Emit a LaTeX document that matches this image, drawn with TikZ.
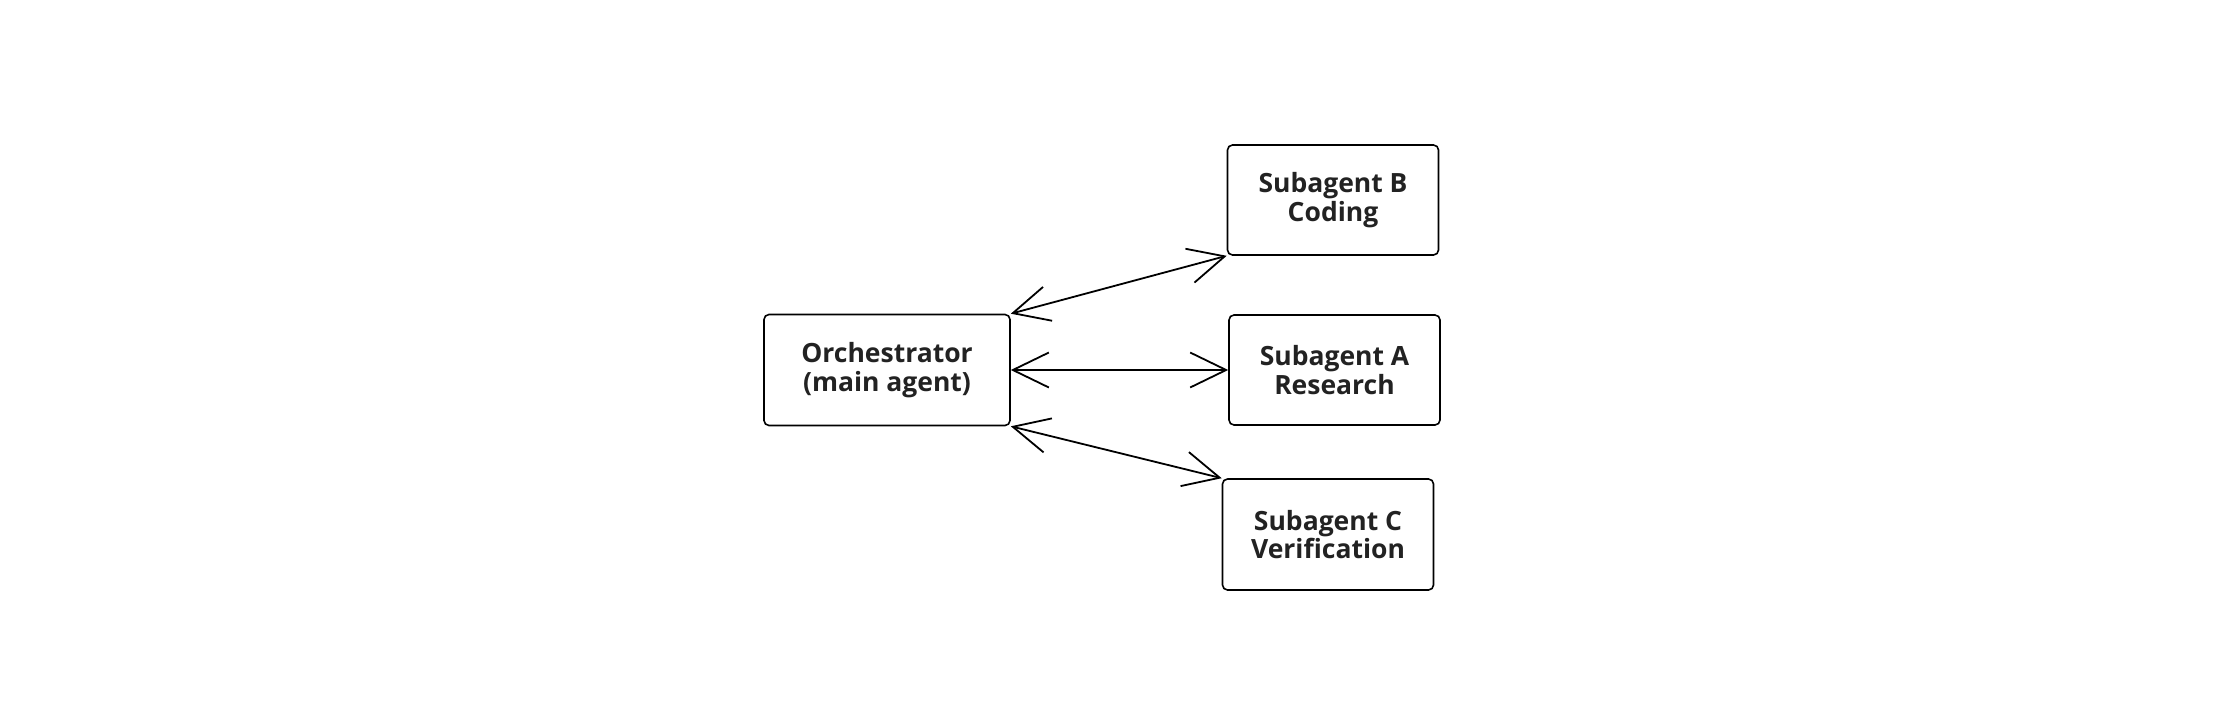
\documentclass[tikz,border=0pt]{standalone}
\usepackage{fontspec}
\setmainfont{Open Sans}
\usetikzlibrary{arrows.meta}
\definecolor{txt}{HTML}{222222}
\begin{document}
\begin{tikzpicture}[x=1pt,y=-1pt,
  box/.style={draw=black,line width=1.6pt,rounded corners=5pt,inner sep=0pt,
    minimum width=211pt,minimum height=110pt,align=center,text=txt,
    font=\fontsize{26.5}{28.5}\selectfont\bfseries},
  link/.style={line width=1.8pt,{Straight Barb[length=36pt,width=35pt,line width=1.8pt]}-{Straight Barb[length=36pt,width=35pt,line width=1.8pt]}}]
\useasboundingbox (0,0) rectangle (2240,715);
\fill[white] (0,0) rectangle (2240,715);
\node[box,minimum width=246pt,minimum height=111pt] (orch) at (887,370) {Orchestrator\\(main agent)};
\node[box] (b) at (1333,200) {Subagent B\\Coding};
\node[box] (a) at (1334.5,370) {Subagent A\\Research};
\node[box,minimum height=111pt] (c) at (1328,534.5) {Subagent C\\Verification};
\draw[link] (orch.north east) -- (b.south west);
\draw[link] (orch.east) -- (a.west);
\draw[link] (orch.south east) -- (c.north west);
\end{tikzpicture}
\end{document}
